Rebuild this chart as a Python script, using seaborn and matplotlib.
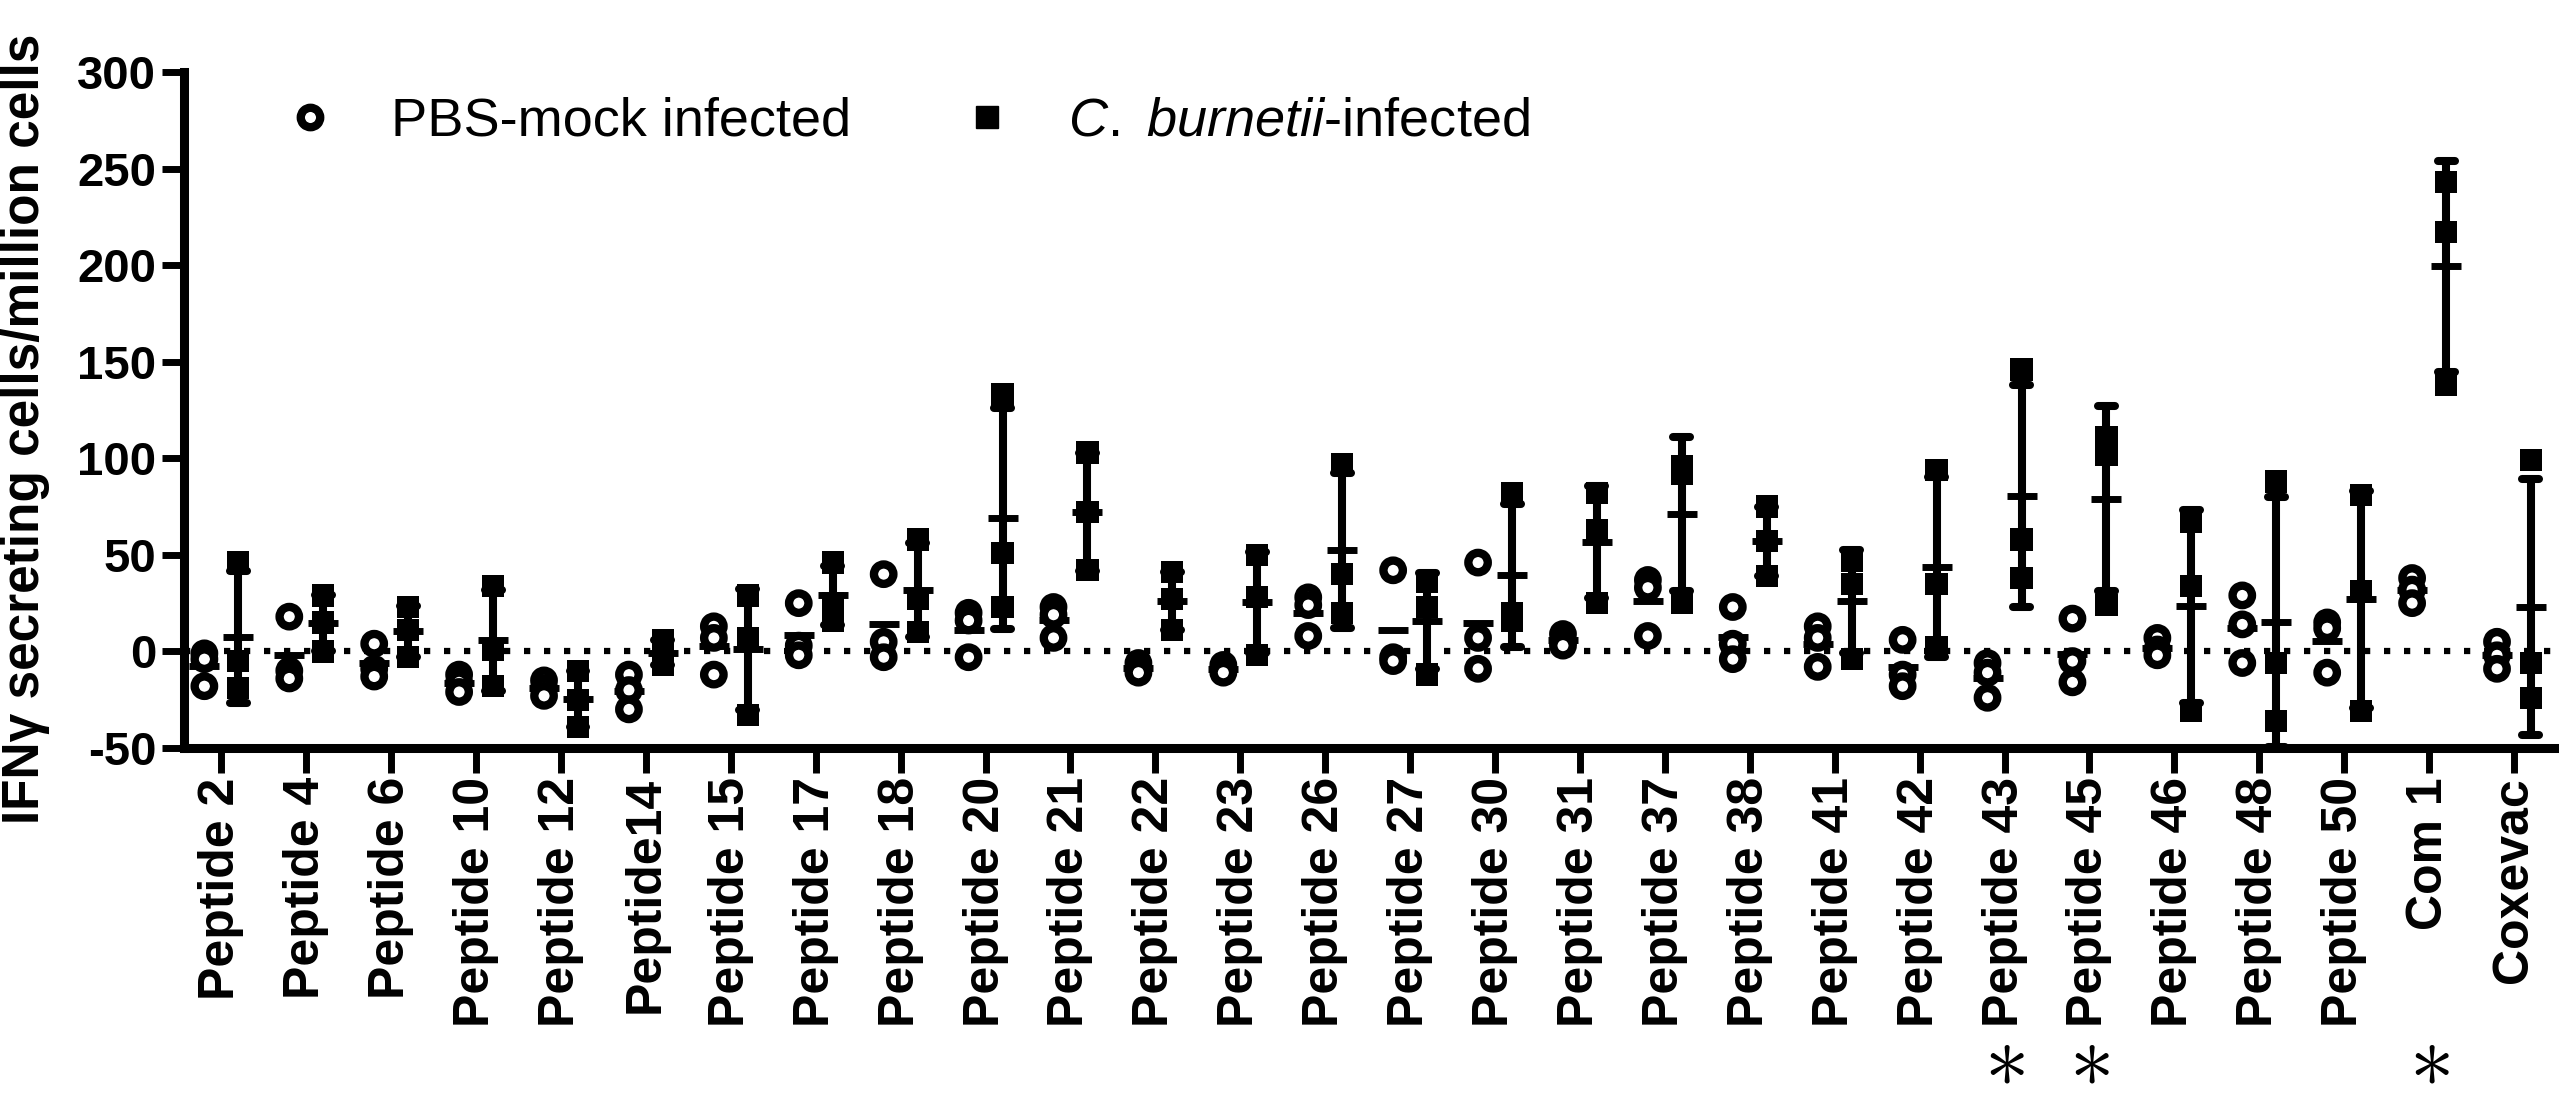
import numpy as np
import pandas as pd
import matplotlib
matplotlib.use("Agg")
import matplotlib.pyplot as plt
import matplotlib.transforms as mtransforms
import seaborn as sns
from matplotlib.lines import Line2D

# ---------------- data ----------------
peptides = ["Peptide 2", "Peptide 4", "Peptide 6", "Peptide 10", "Peptide 12",
            "Peptide14", "Peptide 15", "Peptide 17", "Peptide 18", "Peptide 20",
            "Peptide 21", "Peptide 22", "Peptide 23", "Peptide 26", "Peptide 27",
            "Peptide 30", "Peptide 31", "Peptide 37", "Peptide 38", "Peptide 41",
            "Peptide 42", "Peptide 43", "Peptide 45", "Peptide 46", "Peptide 48",
            "Peptide 50", "Com 1", "Coxevac"]

# PBS-mock infected (three animals)
pbs_rep1 = [-1, 18, 4, -12, -15, -12, 13, 25, 40, 20, 23, -6, -7, 28, 42,
            46, 9, 37, 23, 13, 6, -6, 17, 7, 29, 15, 38, 5]
pbs_rep2 = [-4, -10, -9, -16, -19, -20, 7, 3, 5, 16, 19, -9, -9, 24, -3,
            7, 5, 33, 4, 7, -12, -11, -5, 1, 14, 12, 32, -2]
pbs_rep3 = [-18, -14, -13, -21, -23, -30, -12, -2, -3, -3, 7, -11, -11, 8, -5,
            -9, 3, 8, -4, -8, -18, -24, -16, -2, -6, -11, 25, -9]

# C. burnetii-infected (three animals)
cb_rep1 = [46, 29, 23, 34, -10, 6, 29, 46, 58, 133, 103, 41, 50, 97, 36,
           82, 82, 96, 75, 47, 94, 146, 111, 67, 88, 81, 243, 99]
cb_rep2 = [-5, 15, 11, 1, -25, -1, 7, 25, 27, 51, 72, 27, 28, 40, 23,
           20, 63, 92, 57, 35, 35, 58, 102, 34, -6, 31, 217, -6]
cb_rep3 = [-19, 0, -3, -18, -39, -7, -33, 16, 10, 23, 42, 11, -2, 20, -12,
           16, 25, 25, 39, -4, 2, 38, 24, -31, -36, -31, 138, -24]

significant = ["Peptide 43", "Peptide 45", "Com 1"]

group_names = ["PBS-mock infected", "C. burnetii-infected"]
y_ticks = [-50, 0, 50, 100, 150, 200, 250, 300]

# ---------------- table ----------------
rows = []
for grp, reps in zip(group_names, [(pbs_rep1, pbs_rep2, pbs_rep3),
                                   (cb_rep1, cb_rep2, cb_rep3)]):
    for rep in reps:
        for p, v in zip(peptides, rep):
            rows.append({"peptide": p, "value": v, "group": grp})
df = pd.DataFrame(rows)
df_pbs = df[df["group"] == group_names[0]]
df_cb = df[df["group"] == group_names[1]]

# ---------------- style ----------------
sns.set_theme(style="ticks")
plt.rcParams["font.family"] = ["Liberation Sans", "DejaVu Sans"]
plt.rcParams["text.color"] = "black"
plt.rcParams["mathtext.fontset"] = "custom"
plt.rcParams["mathtext.it"] = "Liberation Sans:italic"
plt.rcParams["mathtext.rm"] = "Liberation Sans"
plt.rcParams["mathtext.bf"] = "Liberation Sans:bold"

W, H = 2559, 1107
fig = plt.figure(figsize=(W / 100, H / 100), dpi=100)
ax = fig.add_axes([184 / W, 1 - 748 / H, 1 - 184 / W, (748 - 72) / H])

black = {g: "black" for g in group_names}

# dotted zero line
ax.axhline(0, color="black", lw=4.5, ls=(0, (1, 2.2)), zorder=0.5)

# mean + SD for infected group
sns.pointplot(data=df_cb, x="peptide", y="value", hue="group",
              hue_order=group_names, order=peptides, dodge=0.4,
              errorbar="sd", capsize=0.2, markers="_", linestyle="none",
              palette=black, markersize=22, markeredgewidth=5,
              err_kws={"linewidth": 5.8}, legend=False, ax=ax)
# mean line for mock group
sns.pointplot(data=df_pbs, x="peptide", y="value", hue="group",
              hue_order=group_names, order=peptides, dodge=0.4,
              errorbar=None, markers="_", linestyle="none",
              palette=black, markersize=22, markeredgewidth=5,
              legend=False, ax=ax)

# individual animals
sns.stripplot(data=df_pbs, x="peptide", y="value", hue="group",
              hue_order=group_names, order=peptides, dodge=True, jitter=False,
              marker="o", size=14, linewidth=6, edgecolor="black",
              palette={group_names[0]: "white", group_names[1]: "white"},
              legend=False, zorder=5, ax=ax)
sns.stripplot(data=df_cb, x="peptide", y="value", hue="group",
              hue_order=group_names, order=peptides, dodge=True, jitter=False,
              marker="s", size=16, linewidth=0,
              palette=black, legend=False, zorder=5, ax=ax)

# ---------------- axes ----------------
ax.set_xlim(-0.44, len(peptides) - 0.47)
ax.set_ylim(y_ticks[0], y_ticks[-1])
ax.set_yticks(y_ticks)
ax.set_yticklabels([str(t) for t in y_ticks], fontsize=34, fontweight="bold")
ax.set_xticks(range(len(peptides)))
ax.set_xticklabels(peptides, rotation=90, fontsize=36, fontweight="bold")
ax.set_xlabel("")
ax.set_ylabel("")
sns.despine(ax=ax)
for s in ["left", "bottom"]:
    ax.spines[s].set_linewidth(6.5)
    ax.spines[s].set_color("black")
ax.tick_params(axis="y", length=16, width=5, pad=4, colors="black")
ax.tick_params(axis="x", length=18, width=5, pad=3, colors="black")

fig.text(1 / W, 1 - 824 / H, "IFNγ secreting cells/million cells",
         rotation=90, ha="left", va="bottom", fontsize=37,
         fontweight="bold", color="black")

# significance asterisks
star_tr = mtransforms.blended_transform_factory(ax.transData, fig.transFigure)
for p in significant:
    ax.text(peptides.index(p), 1 - 1104 / H, r"$\mathbf{\ast}$",
            transform=star_tr, ha="center", va="bottom", fontsize=64,
            color="black", clip_on=False)

# legend
handles = [
    Line2D([], [], ls="none", marker="o", markersize=14, markeredgewidth=6,
           markerfacecolor="white", markeredgecolor="black"),
    Line2D([], [], ls="none", marker="s", markersize=16,
           markerfacecolor="black", markeredgecolor="black"),
]
labels = ["PBS-mock infected", r"$\mathit{C.\ burnetii}$-infected"]
fig.legend(handles, labels, loc="center left",
           bbox_to_anchor=(283 / W, 1 - 122 / H), ncol=2, frameon=False,
           fontsize=39, handlelength=1.0, handletextpad=1.0,
           columnspacing=2.0, borderpad=0, borderaxespad=0,
           labelcolor="black")

fig.savefig("out.png", dpi=100)
